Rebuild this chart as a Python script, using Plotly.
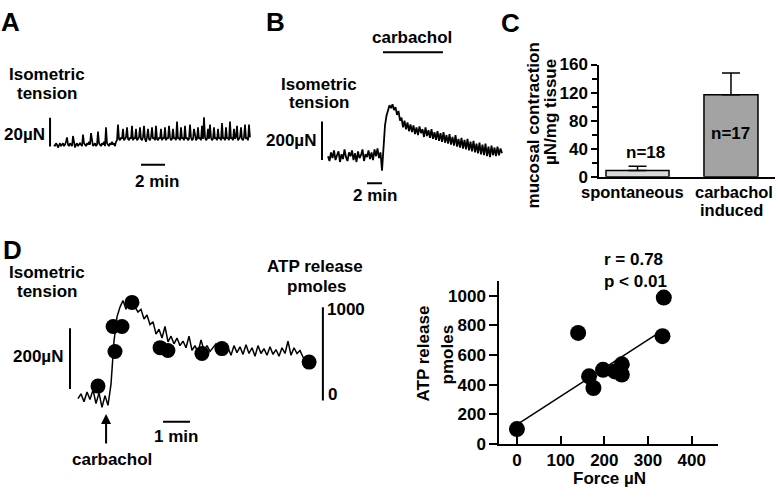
import plotly.graph_objects as go

W, H = 778, 501


def fx(p):
    # pixel column -> paper x
    return p / W


def fy(p):
    # pixel row -> paper y
    return 1 - p / H


# ---------------- data ----------------
# A: spontaneous isometric tension (uN), one sample every 1/12 min
a_dt = 1 / 12
a_tension = [1, 0, 2, 1, -1, 1, 2, 0, 1, 2,
             0, 1, 3, 6, 1, 0, 2, 1, 0, 7,
             1, -1, 1, 2, 0, 1, 2, 1, 0, 8,
             2, 1, 0, 2, 1, 3, 1, 9, 2, 0,
             1, 2, 0, 1, 10, 2, 1, 0, 2, 1,
             3, 0, 13, 2, 1, 0, 2, 1, 3, 1,
             2, 0, 3, 4,
             15, 5, 4, 6, 5, 12, 4, 5, 6, 13,
             5, 4, 6, 5, 14, 4, 6, 5, 12, 4,
             5, 6, 13, 5, 4, 6, 14, 5, 3, 6,
             12, 5, 4, 6, 13, 5, 6, 4, 14, 5,
             4, 6, 5, 12, 4, 6, 5, 13, 4, 6,
             5, 14, 6, 4, 5, 12, 5, 6, 4, 17,
             5, 6, 4, 13, 5, 6, 4, 14, 5, 6,
             4, 5, 15, 6, 4, 5, 12, 6, 4, 5,
             13, 5, 6, 4, 14, 5, 20, 6, 4, 5,
             12, 5, 15, 6, 4, 5, 13, 5, 6, 4,
             12, 5, 6, 4, 16, 5, 6, 4, 13, 5,
             6, 4, 17, 5, 6, 4, 12, 5, 6, 14,
             4, 5, 6, 13, 5, 4, 6, 15, 5, 6,
             4, 15, 6]

# B: carbachol induced tension (uN), one sample every 0.2 min
b_dt = 0.2
b_tension = [0, -25, 20, -10, 30, -20, 5, 25, -30, 10,
             -15, 35, -5, -25, 20, 0, 30, -20, 15, -30,
             25, -10, 5, 35, -25, 10, -5, 30, -15, 20,
             -20, 35, 0, 40, -10, 20, -75, 60, 160, 210,
             240, 265, 250, 270, 240, 255, 215, 235, 185, 200,
             150, 185, 140, 175, 130, 165, 125, 160, 115, 150,
             110, 155, 120, 140, 100, 150, 105, 135, 95, 140,
             90, 125, 85, 130, 80, 120, 75, 125, 70, 110,
             65, 115, 60, 100, 55, 110, 50, 90, 45, 95,
             40, 85, 35, 90, 30, 75, 25, 80, 20, 65,
             15, 70, 10, 60, 5, 65, 0, 50, -5, 55,
             5, 45, 0, 50, 5, 40, 15]
b_carbachol = [7.33, 15.33]  # min

# C: mucosal contraction, uN/mg tissue
c_groups = ["spontaneous", "carbachol", "induced"]
c_mean = [9, 117]
c_sem = [6, 31]
c_n = ["n=18", "n=17"]

# D left: tension (uN) every 1/9 min, ATP release samples (pmoles)
d_dt = 1 / 9
d_tension = [0, 16, -10, 22, -3, 29, -16, 19, -29, 10, -22, 48, 190, 270,
             302, 324, 295, 333, 308, 302, 286, 295, 263, 276, 244, 254, 213,
             229, 200, 238, 187, 206, 181, 200, 175, 190, 168, 206, 159, 175,
             152, 194, 159, 175, 156, 168, 181, 162, 175, 156, 168, 143, 175,
             152, 171, 146, 178, 149, 168, 140, 175, 149, 165, 143, 171, 146,
             162, 140, 168, 149, 190, 143, 168, 149, 159, 137, 127, 121]
d_atp_time = [0.74, 1.30, 1.37, 1.63, 2.0, 3.04, 3.33, 4.59, 5.33, 8.56]
d_atp = [155, 794, 526, 794, 1052, 567, 536, 505, 557, 412]

# D right: ATP release vs force
force = [0, 140, 165, 175, 197, 224, 240, 240, 333, 336]
atp = [100, 749, 456, 377, 500, 489, 537, 468, 727, 987]
fit_force = [0, 335]
fit_atp = [130, 770]

FONT = "Liberation Sans, Arial, sans-serif"
K = "black"

fig = go.Figure()

fig.add_trace(go.Scatter(y=a_tension, x0=0, dx=a_dt, mode="lines",
                         line=dict(color=K, width=1.7), xaxis="x", yaxis="y"))
fig.add_trace(go.Scatter(y=b_tension, x0=0, dx=b_dt, mode="lines",
                         line=dict(color=K, width=1.8), xaxis="x2", yaxis="y2"))
fig.add_trace(go.Bar(x=[0, 1], y=c_mean, width=[0.674, 0.578],
                     marker=dict(color=["#d9d9d9", "#a3a3a3"],
                                 line=dict(color=K, width=1.5)),
                     error_y=dict(type="data", symmetric=False, array=c_sem,
                                  arrayminus=[0, 0], color=K, thickness=1.5,
                                  width=9),
                     xaxis="x3", yaxis="y3"))
fig.add_trace(go.Scatter(y=d_tension, x0=0, dx=d_dt, mode="lines",
                         line=dict(color=K, width=1.5), xaxis="x4", yaxis="y4"))
fig.add_trace(go.Scatter(x=d_atp_time, y=d_atp, mode="markers",
                         marker=dict(color=K, size=15), cliponaxis=False,
                         xaxis="x4", yaxis="y5"))
fig.add_trace(go.Scatter(x=fit_force, y=fit_atp, mode="lines",
                         line=dict(color=K, width=1.5), xaxis="x6", yaxis="y6"))
fig.add_trace(go.Scatter(x=force, y=atp, mode="markers",
                         marker=dict(color=K, size=16), cliponaxis=False,
                         xaxis="x6", yaxis="y6"))

hidden = dict(visible=False, showgrid=False, zeroline=False, fixedrange=True)

fig.update_layout(
    width=W, height=H, margin=dict(l=0, r=0, t=0, b=0),
    paper_bgcolor="white", plot_bgcolor="rgba(0,0,0,0)", showlegend=False,
    font=dict(family=FONT, size=17, color=K, weight="bold"),
    # A
    xaxis=dict(hidden, domain=[fx(40), fx(260)],
               range=[(40 - 54) / 12, (260 - 54) / 12]),
    yaxis=dict(hidden, domain=[fy(170), fy(100)],
               range=[(142.5 - 170) / 1.5, (142.5 - 100) / 1.5]),
    # B
    xaxis2=dict(hidden, domain=[fx(315), fx(510)],
                range=[(315 - 328) / 7.5, (510 - 328) / 7.5]),
    yaxis2=dict(hidden, domain=[fy(190), fy(40)],
                range=[(153 - 190) / 0.2, (153 - 40) / 0.2]),
    # C
    xaxis3=dict(domain=[fx(599), fx(775)], range=[-0.412, 1.471],
                showticklabels=False, ticks="", showline=True,
                linecolor=K, linewidth=1.5, showgrid=False, zeroline=False,
                anchor="y3"),
    yaxis3=dict(domain=[fy(174.3), fy(57.7)], range=[0, 160], dtick=40,
                ticks="outside", ticklen=6, tickwidth=1.5, tickcolor=K,
                minor=dict(dtick=20, ticks="outside", ticklen=5,
                           tickwidth=1.5, tickcolor=K),
                showline=True, linecolor=K, linewidth=1.5, showgrid=False,
                zeroline=False, tickfont=dict(size=17, weight="bold"),
                anchor="x3"),
    # D left
    xaxis4=dict(hidden, domain=[fx(60), fx(340)],
                range=[(60 - 78) / 27, (340 - 78) / 27], anchor="y4"),
    yaxis4=dict(hidden, domain=[fy(440), fy(280)],
                range=[(405 - 440) / 0.315, (405 - 280) / 0.315], anchor="x4"),
    yaxis5=dict(hidden, domain=[fy(440), fy(280)], overlaying="y4",
                range=[(407 - 440) / 0.097, (407 - 280) / 0.097], anchor="x4"),
    # D right
    xaxis6=dict(domain=[fx(499), fx(718)], range=[-41, 460],
                tickvals=[0, 100, 200, 300, 400], ticks="inside", ticklen=8,
                tickwidth=1.5, tickcolor=K, showline=True, linecolor=K,
                linewidth=1.5, showgrid=False, zeroline=False,
                tickfont=dict(size=17, weight="bold"), anchor="y6"),
    yaxis6=dict(domain=[fy(452), fy(282.6)], range=[0, 1100],
                tickvals=[0, 200, 400, 600, 800, 1000], ticks="outside",
                ticklen=8, tickwidth=1.5, tickcolor=K, showline=True,
                linecolor=K, linewidth=1.5, showgrid=False, zeroline=False,
                tickfont=dict(size=17, weight="bold"), anchor="x6"),
)

# scale bars, in the units of each trace
bar = dict(type="line", line=dict(color=K, width=2))
shapes = [
    dict(bar, xref="x", yref="y", x0=-0.33, x1=-0.33, y0=-0.3, y1=19.7),
    dict(bar, xref="x", yref="y", x0=7.25, x1=9.25, y0=-13, y1=-13),
    dict(bar, xref="x2", yref="y2", x0=-0.8, x1=-0.8, y0=-20, y1=180),
    dict(bar, xref="x2", yref="y2", x0=5.2, x1=7.2, y0=-140, y1=-140),
    dict(bar, xref="x2", yref="y2", x0=b_carbachol[0], x1=b_carbachol[1],
         y0=540, y1=540),
    dict(bar, xref="x4", yref="y4", x0=-0.296, x1=-0.296, y0=32, y1=232),
    dict(bar, xref="x4", yref="y5", x0=9.07, x1=9.07, y0=0, y1=1000),
    dict(bar, xref="x4", yref="y4", x0=3.15, x1=4.15, y0=-76, y1=-76),
]
fig.update_layout(shapes=shapes)


def label(text, x, y, size=17, angle=0):
    fig.add_annotation(text=text, x=fx(x), y=fy(y), xref="paper",
                       yref="paper", showarrow=False, xanchor="center",
                       yanchor="middle", textangle=angle,
                       font=dict(size=size, weight="bold"))


label("A", 10, 13, 26)
label("B", 275, 13, 26)
label("C", 510, 15, 26)
label("D", 13, 250, 26)

label("Isometric", 47, 68)
label("tension", 47, 88)
label("20µN", 24, 130)
label("2 min", 157, 179)

label("carbachol", 412, 30)
label("Isometric", 319, 78)
label("tension", 319, 97)
label("200µN", 291, 137)
label("2 min", 375, 194)

label("mucosal contraction", 533, 121, angle=-90)
label("µN/mg tissue", 551, 107, angle=-90)
label(c_groups[0], 632, 190, 16.5)
label(c_groups[1], 734, 190, 16.5)
label(c_groups[2], 731, 209, 16.5)
fig.add_annotation(text=c_n[0], x=0, y=35, xref="x3", yref="y3",
                   showarrow=False, xshift=8, font=dict(size=17, weight="bold"))
fig.add_annotation(text=c_n[1], x=1, y=62, xref="x3", yref="y3",
                   showarrow=False, font=dict(size=17, weight="bold"))

label("Isometric", 47, 274)
label("tension", 47, 294)
label("200µN", 38, 361)
label("ATP release", 315, 268)
label("pmoles", 317, 288)
label("1000", 346, 312)
label("0", 332, 401)
label("1 min", 176, 444)
label("carbachol", 112, 468)
fig.add_annotation(text="", x=1.04, y=-51, xref="x4", yref="y4",
                   ax=0, ay=31, showarrow=True, arrowhead=2, arrowsize=1,
                   arrowwidth=2, arrowcolor=K)

label("r = 0.78", 633, 260)
label("p < 0.01", 635, 283)
label("Force µN", 609, 488)
label("ATP release", 423, 358, angle=-90)
label("pmoles", 447, 359, angle=-90)

# the page body has a default margin; drop it so the figure fills the window
fig.write_html("out.html", config={"displayModeBar": False},
               post_script="document.body.style.margin='0';"
                           "document.body.style.overflow='hidden';")
